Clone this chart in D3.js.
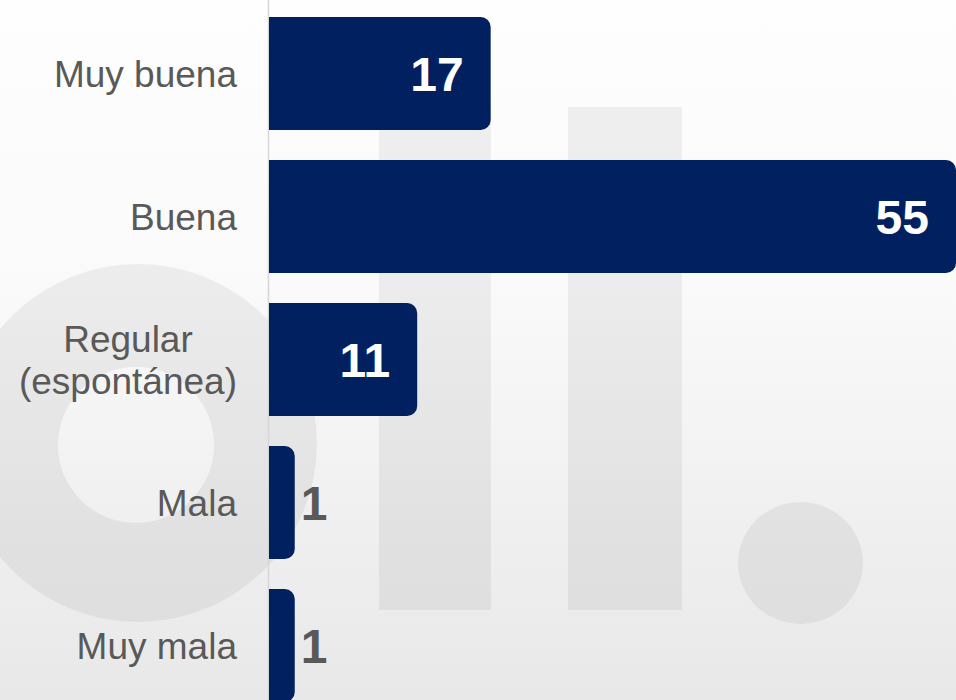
<!DOCTYPE html>
<html>
<head>
<meta charset="utf-8">
<script src="https://cdn.jsdelivr.net/npm/d3@7"></script>
<style>
  html, body { margin: 0; padding: 0; overflow: hidden; }
  svg { display: block; }
</style>
</head>
<body>
<div class="chart"></div>
<script>
const CATEGORIES = [
  ['Muy buena'],
  ['Buena'],
  ['Regular', '(espontánea)'],
  ['Mala'],
  ['Muy mala']
];
const VALUES = [17, 55, 11, 1, 1];

const width = 956;
const height = 700;
const axisX = 268.5;
const BAR_COLOR = '#002060';
const TEXT_COLOR = '#595959';

const svg = d3.select('.chart').append('svg')
  .attr('width', width)
  .attr('height', height);

// background gradient
const defs = svg.append('defs');
const grad = defs.append('linearGradient')
  .attr('id', 'bg')
  .attr('x1', 0).attr('y1', 0).attr('x2', 0).attr('y2', 1);
grad.append('stop').attr('offset', '0%').attr('stop-color', '#fefefe');
grad.append('stop').attr('offset', '40%').attr('stop-color', '#fafafa');
grad.append('stop').attr('offset', '100%').attr('stop-color', '#e8e8e8');

svg.append('rect')
  .attr('width', width)
  .attr('height', height)
  .attr('fill', 'url(#bg)');

// watermark logo
const wm = svg.append('g').attr('fill', '#000').attr('fill-opacity', 0.055);
const ring = d3.path();
ring.arc(138, 443, 179, 0, 2 * Math.PI);
ring.moveTo(136 + 78, 445);
ring.arc(136, 445, 78, 0, 2 * Math.PI);
wm.append('path').attr('d', ring.toString()).attr('fill-rule', 'evenodd');
wm.append('rect').attr('x', 379).attr('y', 107).attr('width', 112).attr('height', 503);
wm.append('rect').attr('x', 568).attr('y', 107).attr('width', 114).attr('height', 503);
wm.append('ellipse').attr('cx', 800.5).attr('cy', 563).attr('rx', 62.5).attr('ry', 61);

// scales
const y = d3.scaleBand()
  .domain(d3.range(VALUES.length))
  .range([2, 717])
  .paddingInner(0.21)
  .paddingOuter(0.105);

const x = d3.scaleLinear()
  .domain([0, d3.max(VALUES)])
  .range([axisX + 14, width]);

// axis line
svg.append('line')
  .attr('x1', axisX).attr('x2', axisX)
  .attr('y1', 0).attr('y2', height)
  .attr('stroke', '#d6d6d6')
  .attr('stroke-width', 1.5);

// bars with rounded right corners
const r = 10;
function barPath(x0, y0, x1, h) {
  const p = d3.path();
  p.moveTo(x0, y0);
  p.lineTo(x1 - r, y0);
  p.arcTo(x1, y0, x1, y0 + r, r);
  p.lineTo(x1, y0 + h - r);
  p.arcTo(x1, y0 + h, x1 - r, y0 + h, r);
  p.lineTo(x0, y0 + h);
  p.closePath();
  return p.toString();
}

const rows = svg.selectAll('.row')
  .data(VALUES)
  .enter().append('g')
  .attr('class', 'row');

rows.append('path')
  .attr('d', (d, i) => barPath(axisX + 0.5, y(i), x(d), y.bandwidth()))
  .attr('fill', BAR_COLOR);

rows.append('text')
  .attr('x', d => d >= 5 ? x(d) - 27 : x(d) + 6)
  .attr('y', (d, i) => y(i) + y.bandwidth() / 2 + 17)
  .attr('text-anchor', d => d >= 5 ? 'end' : 'start')
  .attr('font-family', 'Liberation Sans, Arial, sans-serif')
  .attr('font-weight', 'bold')
  .attr('font-size', 48)
  .attr('fill', d => d >= 5 ? '#ffffff' : TEXT_COLOR)
  .text(d => d);

// category labels
const labels = svg.selectAll('.cat')
  .data(CATEGORIES)
  .enter().append('text')
  .attr('class', 'cat')
  .attr('font-family', 'Liberation Sans, Arial, sans-serif')
  .attr('font-size', 37)
  .attr('fill', TEXT_COLOR)
  .attr('text-anchor', 'end');

labels.each(function(lines, i) {
  const cy = y(i) + y.bandwidth() / 2;
  const lh = 42;
  const first = cy + 13 - (lines.length - 1) * lh / 2;
  const t = d3.select(this);
  lines.forEach((ln, j) => {
    t.append('tspan')
      .attr('x', 237)
      .attr('y', first + j * lh)
      .text(ln);
  });
  // center shorter lines under the longest one
  if (lines.length > 1) {
    const spans = t.selectAll('tspan').nodes();
    const widths = spans.map(s => s.getComputedTextLength());
    const maxW = d3.max(widths);
    spans.forEach((s, j) => {
      d3.select(s).attr('x', 237 - (maxW - widths[j]) / 2);
    });
  }
});
</script>
</body>
</html>
